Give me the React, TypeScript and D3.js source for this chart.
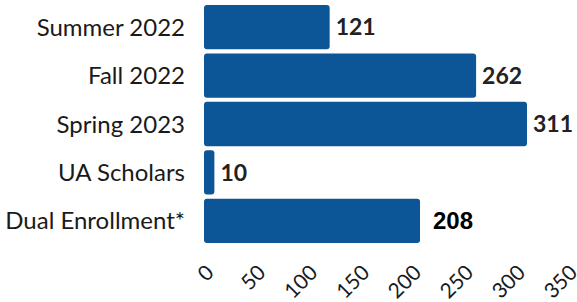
import React, { useEffect, useRef } from 'react';
import * as d3 from 'd3';

const categories = ['Summer 2022', 'Fall 2022', 'Spring 2023', 'UA Scholars', 'Dual Enrollment*'];
const values = [121, 262, 311, 10, 208];
const ticks = [0, 50, 100, 150, 200, 250, 300, 350];

const App = () => {
  const ref = useRef<SVGSVGElement>(null);

  useEffect(() => {
    const height = 302;
    const margin = { top: 5, right: 10, bottom: 59, left: 204 };
    const font = 'Lato, sans-serif';

    const svg = d3.select(ref.current);
    svg.selectAll('*').remove();

    const x = d3.scaleLinear()
      .domain([0, 350])
      .range([margin.left, margin.left + 363.5]);

    const y = d3.scaleBand()
      .domain(categories)
      .range([margin.top, height - margin.bottom])
      .paddingInner(0.085)
      .paddingOuter(0);

    const data = categories.map((c, i) => ({ name: c, value: values[i] }));

    svg.selectAll('rect.bar')
      .data(data)
      .join('rect')
      .attr('class', 'bar')
      .attr('x', x(0))
      .attr('y', d => y(d.name)!)
      .attr('width', d => x(d.value) - x(0))
      .attr('height', y.bandwidth())
      .attr('rx', 3)
      .attr('fill', '#0c5597');

    // value labels (the last one is set in a different face in the original)
    svg.selectAll('text.val')
      .data(data)
      .join('text')
      .attr('class', 'val')
      .attr('x', (d, i) => x(d.value) + (i === 4 ? 13 : 6))
      .attr('y', d => y(d.name)! + y.bandwidth() / 2)
      .attr('dy', '0.36em')
      .style('font-family', (d, i) => (i === 4 ? 'Arial, "Liberation Sans", sans-serif' : font))
      .style('font-size', (d, i) => (i === 4 ? '24px' : '23px'))
      .style('font-weight', 700)
      .attr('fill', (d, i) => (i === 4 ? '#000' : '#222'))
      .text(d => d.value);

    // category labels
    svg.selectAll('text.cat')
      .data(data)
      .join('text')
      .attr('class', 'cat')
      .attr('x', 185)
      .attr('y', d => y(d.name)! + y.bandwidth() / 2)
      .attr('dy', '0.36em')
      .attr('text-anchor', 'end')
      .style('font-family', font)
      .style('font-size', '24px')
      .attr('fill', '#1a1a1a')
      .text(d => d.name);

    // x tick labels, rotated
    svg.selectAll('text.tick')
      .data(ticks)
      .join('text')
      .attr('class', 'tick')
      .attr('transform', d => `translate(${x(d) + 11},274) rotate(-45)`)
      .attr('text-anchor', 'end')
      .style('font-family', font)
      .style('font-size', '21px')
      .attr('fill', '#1a1a1a')
      .text(d => d);
  }, []);

  return (
    <svg
      ref={ref}
      width={577}
      height={302}
      style={{ position: 'absolute', left: 0, top: 0, background: '#fff' }}
    />
  );
};

export default App;
